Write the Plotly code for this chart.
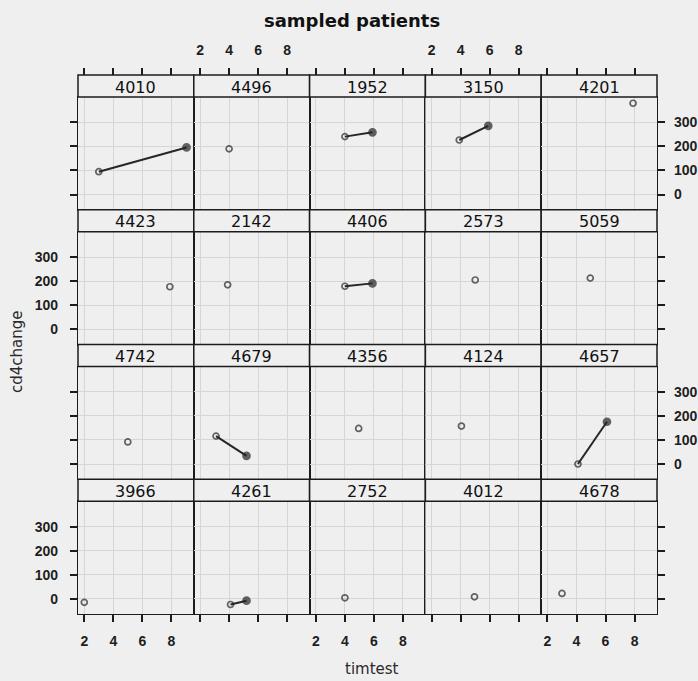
import plotly.graph_objects as go

# ---------------- data ----------------
patients = ["4010", "4496", "1952", "3150", "4201",
            "4423", "2142", "4406", "2573", "5059",
            "4742", "4679", "4356", "4124", "4657",
            "3966", "4261", "2752", "4012", "4678"]
timtest = [[3.0, 9.05], [4.0], [4.0, 5.9], [3.9, 5.9], [7.9],
           [7.9], [3.9], [4.0, 5.9], [5.0], [4.95],
           [5.0], [3.1, 5.2], [4.95], [4.05], [4.1, 6.1],
           [2.0], [4.1, 5.2], [4.0], [4.95], [3.0]]
cd4change = [[95, 196], [190], [241, 259], [227, 286], [380],
             [177], [185], [179, 191], [205], [213],
             [92], [116, 34], [148], [158], [0, 176],
             [-15], [-24, -8], [4], [8], [22]]
x_ticks = [2, 4, 6, 8]
y_ticks = [0, 100, 200, 300]
x_range = [1.566, 9.55]
y_range = [-63.5, 406]

# ---------------- geometry / style ----------------
W, H = 698, 681
L, R, T, B = 78, 657, 75, 614
NCOL, NROW = 5, 4
COLW = (R - L) / NCOL
ROWH = (B - T) / NROW
STRIP = 22
BG = "#efefef"
INK = "#1c1c1c"
GRID = "#d6d6d6"
TICKFONT = dict(family="Liberation Sans, Arial, sans-serif", size=14, color="#1e1e1e", weight="bold")


def fx(p):
    return p / W


def fy(p):
    return 1 - p / H


fig = go.Figure()
layout = {}
shapes = []
annotations = []

for i, pid in enumerate(patients):
    r, c = divmod(i, NCOL)
    k = i + 1
    xa = "x" if k == 1 else f"x{k}"
    ya = "y" if k == 1 else f"y{k}"
    left = L + c * COLW
    right = left + COLW
    top = T + r * ROWH
    ptop = top + STRIP
    pbot = top + ROWH

    xs = timtest[i]
    ys = cd4change[i]
    symbols = ["circle-open"] + ["circle"] * (len(xs) - 1)
    sizes = [6] + [7] * (len(xs) - 1)
    fig.add_trace(go.Scatter(
        x=xs, y=ys, xaxis=xa, yaxis=ya, mode="lines+markers",
        line=dict(color="#262626", width=2),
        marker=dict(symbol=symbols, size=sizes, color="#262626",
                    line=dict(color="#262626", width=1.7)),
        showlegend=False, hoverinfo="x+y", name=pid))

    xdict = dict(domain=[fx(left), fx(right)], anchor=ya, range=x_range,
                 tickvals=x_ticks, showgrid=True, gridcolor=GRID, gridwidth=1,
                 zeroline=False, showline=True, linecolor=INK, linewidth=1.3,
                 mirror=True, tickfont=TICKFONT)
    if r == NROW - 1:
        xdict.update(ticks="outside", ticklen=7, tickwidth=1.5, tickcolor=INK,
                     showticklabels=(c in (0, 2, 4)), ticklabelstandoff=7)
    else:
        xdict.update(ticks="", showticklabels=False)

    ydict = dict(domain=[fy(pbot), fy(ptop)], anchor=xa, range=y_range,
                 tickvals=y_ticks, showgrid=True, gridcolor=GRID, gridwidth=1,
                 zeroline=False, showline=True, linecolor=INK, linewidth=1.3,
                 mirror=True, tickfont=TICKFONT)
    if c == 0:
        ydict.update(side="left", ticks="outside", ticklen=7, tickwidth=1.5,
                     tickcolor=INK, showticklabels=(r in (1, 3)), ticklabelstandoff=9)
    elif c == NCOL - 1:
        ydict.update(side="right", ticks="outside", ticklen=7, tickwidth=1.5,
                     tickcolor=INK, showticklabels=(r in (0, 2)), ticklabelstandoff=6)
    else:
        ydict.update(ticks="", showticklabels=False)

    layout["xaxis" if k == 1 else f"xaxis{k}"] = xdict
    layout["yaxis" if k == 1 else f"yaxis{k}"] = ydict

    # strip
    shapes.append(dict(type="rect", xref="paper", yref="paper",
                       x0=fx(left), x1=fx(right), y0=fy(ptop), y1=fy(top),
                       line=dict(color=INK, width=1.5), fillcolor=BG, layer="above"))
    annotations.append(dict(text=pid, xref="paper", yref="paper",
                            x=fx((left + right) / 2), y=fy(top + STRIP / 2 + 1),
                            xanchor="center", yanchor="middle", showarrow=False,
                            font=dict(family="DejaVu Sans, sans-serif", size=16, color="#111111")))

# top tick axes (above the first row's strips)
for c in range(NCOL):
    k = 21 + c
    base = c + 1
    bx = "x" if base == 1 else f"x{base}"
    by = "y" if base == 1 else f"y{base}"
    layout[f"xaxis{k}"] = dict(overlaying=bx, anchor="free", position=fy(T), side="top",
                               range=x_range, tickvals=x_ticks, showgrid=False,
                               zeroline=False, showline=False, ticks="outside",
                               ticklen=7, tickwidth=1.5, tickcolor=INK,
                               showticklabels=(c in (1, 3)), tickfont=TICKFONT,
                               ticklabelstandoff=7)
    fig.add_trace(go.Scatter(x=[None], y=[None], xaxis=f"x{k}", yaxis=by,
                             mode="markers", showlegend=False, hoverinfo="skip"))

annotations.append(dict(text="sampled patients", xref="paper", yref="paper",
                        x=fx(352), y=fy(20), xanchor="center", yanchor="middle",
                        showarrow=False,
                        font=dict(family="DejaVu Sans, sans-serif", size=18,
                                  color="#111111", weight="bold")))
annotations.append(dict(text="timtest", xref="paper", yref="paper",
                        x=fx(372), y=fy(669), xanchor="center", yanchor="middle",
                        showarrow=False,
                        font=dict(family="DejaVu Sans, sans-serif", size=15, color="#2a2a2a")))
annotations.append(dict(text="cd4change", xref="paper", yref="paper",
                        x=fx(17), y=fy(352), xanchor="center", yanchor="middle",
                        textangle=-90, showarrow=False,
                        font=dict(family="DejaVu Sans, sans-serif", size=15, color="#2a2a2a")))

fig.update_layout(width=W, height=H, margin=dict(l=0, r=0, t=0, b=0),
                  paper_bgcolor=BG, plot_bgcolor=BG, showlegend=False,
                  shapes=shapes, annotations=annotations, **layout)

fig.write_html("out.html", config={"displayModeBar": False},
               post_script="document.body.style.margin='0';"
                           "document.body.style.background='%s';" % BG)
